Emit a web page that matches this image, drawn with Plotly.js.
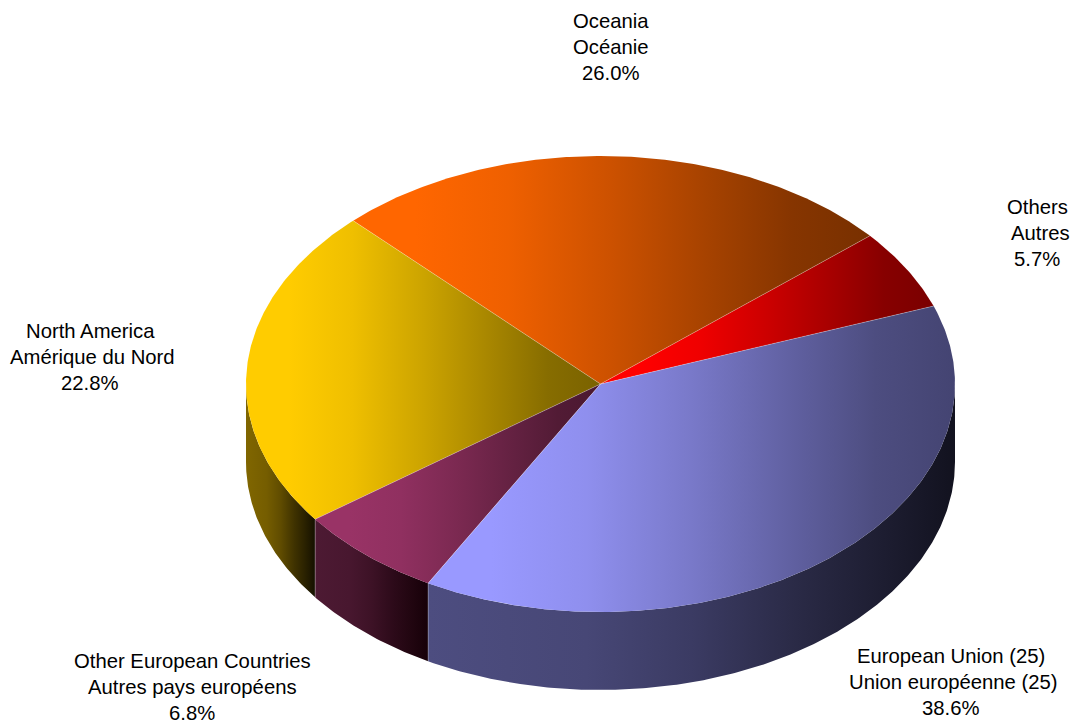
<!DOCTYPE html>
<html>
<head>
<meta charset="utf-8">
<script src="https://cdn.plot.ly/plotly-3.0.1.min.js"></script>
<style>html,body{margin:0;padding:0;background:#fff}#chart{width:1073px;height:722px}</style>
</head>
<body>
<div id="chart"></div>
<script>
// Data, in counter-clockwise drawing order starting from the Others slice
const namesEnglish = ['Others', 'Oceania', 'North America', 'Other European Countries', 'European Union (25)'];
const namesFrench = ['Autres', 'Océanie', 'Amérique du Nord', 'Autres pays européens', 'Union européenne (25)'];
const shares = [5.7, 26.0, 22.8, 6.8, 38.6];

// Styling
const topLight = ['#ff0000', '#ff6600', '#ffcc00', '#993366', '#9999ff'];
const topDark = ['#7a0000', '#783000', '#7a6200', '#4a1830', '#444472'];
const sideLight = ['#7f0000', '#803300', '#806600', '#4d1a33', '#4d4d80'];
const sideDark = ['#100000', '#100500', '#141000', '#160008', '#12121f'];
const topProfile = [[0, 0], [0.12, 0], [0.3, 0.12], [0.5, 0.38], [0.7, 0.68], [0.85, 0.9], [1, 1]];
const sideProfile = [[0, 0], [0.3, 0.1], [0.5, 0.3], [0.7, 0.6], [0.84, 0.78], [1, 1]];
const labelCentreX = [1037, 611, 90, 192, 951];
const labelCentreY = [233, 47, 357, 687, 682];
const frenchShift = [3, 0, 2.5, 0, 2];
const lineStep = 26;

const cx = 600.5, cy = 384, rx = 354.5, ry = 228, depth = 78;
const startDeg = 20;
const arcStep = 0.5;
const edgeColor = 'rgba(255,255,255,0.4)';

const px = d => cx + rx * Math.cos(d * Math.PI / 180);
const py = d => cy - ry * Math.sin(d * Math.PI / 180);

function arcDegrees(a, b) {
  const out = [];
  for (let d = a; d < b; d += arcStep) out.push(d);
  out.push(b);
  return out;
}
function hexRgb(h) {
  return [1, 3, 5].map(i => parseInt(h.slice(i, i + 2), 16));
}
function scaleFrom(light, dark, profile) {
  const a = hexRgb(light), b = hexRgb(dark);
  return profile.map(p => {
    const c = a.map((v, k) => Math.round(v + (b[k] - v) * p[1]));
    return [p[0], 'rgb(' + c.join(',') + ')'];
  });
}

const total = shares.reduce((s, v) => s + v, 0);
const bounds = [startDeg];
shares.forEach(v => bounds.push(bounds[bounds.length - 1] + v / total * 360));

const traces = [];
function fillTrace(x, y, light, dark, profile) {
  traces.push({
    type: 'scatter', mode: 'lines', x, y, fill: 'toself',
    line: {width: 0, color: light},
    fillgradient: {type: 'horizontal', colorscale: scaleFrom(light, dark, profile)},
    hoverinfo: 'skip', showlegend: false
  });
}
function lineTrace(x, y) {
  traces.push({
    type: 'scatter', mode: 'lines', x, y,
    line: {width: 0.7, color: edgeColor},
    hoverinfo: 'skip', showlegend: false
  });
}

// Side walls: only the part of each slice on the near half of the ellipse
shares.forEach((v, i) => {
  const ranges = [[bounds[i], bounds[i + 1]], [bounds[i] - 360, bounds[i + 1] - 360]];
  ranges.forEach(r => {
    const a = Math.max(r[0], 180), b = Math.min(r[1], 360);
    if (b <= a) return;
    const ds = arcDegrees(a, b);
    const x = ds.map(px).concat(ds.slice().reverse().map(px));
    const y = ds.map(py).concat(ds.slice().reverse().map(d => py(d) + depth));
    fillTrace(x, y, sideLight[i], sideDark[i], sideProfile);
  });
});

// Top faces
shares.forEach((v, i) => {
  const ds = arcDegrees(bounds[i], bounds[i + 1]);
  fillTrace([cx].concat(ds.map(px)), [cy].concat(ds.map(py)), topLight[i], topDark[i], topProfile);
});

// Thin separators between slices, and between visible side walls
bounds.slice(0, -1).forEach(d => {
  lineTrace([cx, px(d)], [cy, py(d)]);
  const s = ((d % 360) + 360) % 360;
  if (s > 180 && s < 360) lineTrace([px(d), px(d)], [py(d), py(d) + depth]);
});

// Labels: three real text lines per slice
const annotations = [];
shares.forEach((v, i) => {
  [[namesEnglish[i], -lineStep, 0],
   [namesFrench[i], 0, frenchShift[i]],
   [v.toFixed(1) + '%', lineStep, 0]].forEach(l => {
    annotations.push({
      text: l[0], x: labelCentreX[i] + l[2], y: labelCentreY[i] + l[1],
      xref: 'x', yref: 'y', showarrow: false, xanchor: 'center', yanchor: 'middle',
      font: {family: '"Liberation Sans", Arial, sans-serif', size: 20.3, color: '#000'}
    });
  });
});

Plotly.newPlot('chart', traces, {
  width: 1073, height: 722,
  margin: {l: 0, r: 0, t: 0, b: 0},
  paper_bgcolor: '#fff', plot_bgcolor: '#fff',
  xaxis: {range: [0, 1073], visible: false, fixedrange: true},
  yaxis: {range: [722, 0], visible: false, fixedrange: true},
  annotations,
  showlegend: false
}, {staticPlot: true, displayModeBar: false});
</script>
</body>
</html>
